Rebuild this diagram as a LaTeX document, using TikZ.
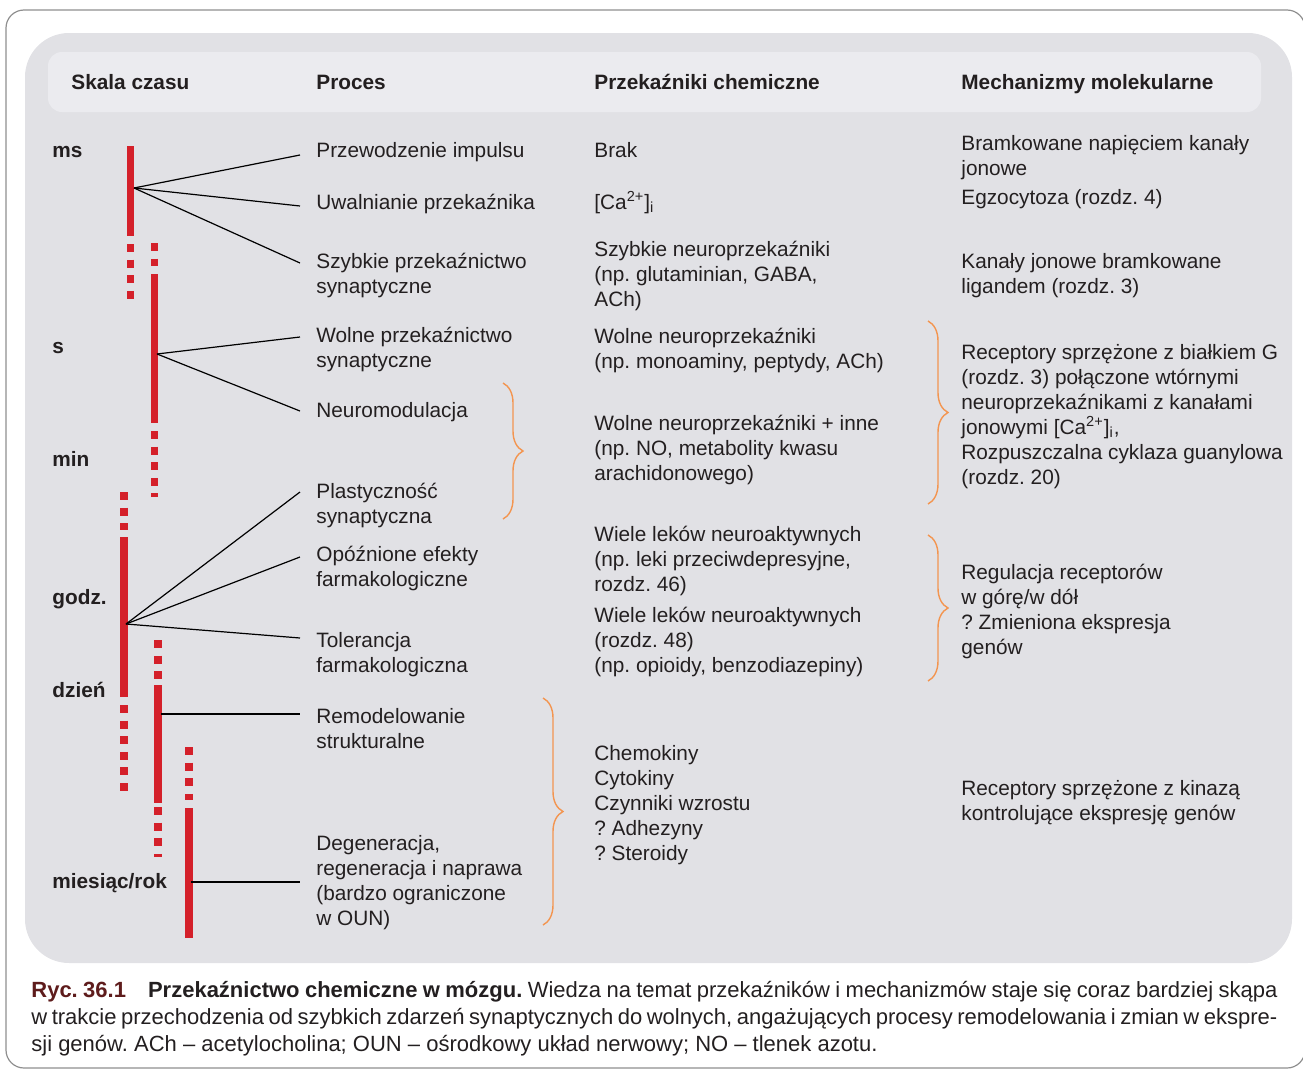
\documentclass[tikz,border=0pt]{standalone}
\usepackage{fontspec}
\setmainfont{Liberation Sans}
\usepackage{xcolor}
\usepackage{tikz}
\usetikzlibrary{decorations.pathreplacing, positioning}
\definecolor{panelgray}{HTML}{E1E1E5}
\definecolor{headgray}{HTML}{EBEBEF}
\definecolor{framegray}{HTML}{8F8F8F}
\definecolor{barred}{HTML}{D4202A}
\definecolor{braceorange}{HTML}{F39550}
\definecolor{txtgray}{HTML}{231F20}
\definecolor{rycred}{HTML}{5E1C1C}
\frenchspacing
% lines of one text, first baseline on the node's base
\newcommand{\colines}[1]{\begin{tabular}[t]{@{}l@{}}#1\end{tabular}}
\newcommand{\capline}[1]{\makebox[623pt][s]{#1}}
\tikzset{
    textnode/.style = {draw=none, fill=none, rectangle, inner sep=0pt, anchor=base west,
      text=txtgray, font=\fontsize{10.4}{12.5}\selectfont},
    headnode/.style = {textnode, font=\fontsize{10.4}{12.5}\selectfont\bfseries},
    timenode/.style = {headnode},
    capnode/.style = {textnode, font=\fontsize{11}{13}\selectfont},
    redbar/.style = {barred, line width=3.6pt},
    reddash/.style = {redbar, dash pattern=on 4pt off 3.8pt},
    connect/.style = {black, line width=0.6pt},
    bracket/.style = {braceorange, line width=0.7pt, decorate,
      decoration={brace, amplitude=10pt}}
}

\begin{document}
\begin{tikzpicture}[x=0.5pt, y=-0.5pt]
    \useasboundingbox (0,0) rectangle (1303,1071);
    % frame, panel and header band
    \draw [framegray, line width=0.6pt, rounded corners=9pt] (6,10) rectangle (1305,1068);
    \fill [panelgray, rounded corners=22pt] (25,33) rectangle (1292,963);
    \fill [headgray, rounded corners=7pt] (48,52) rectangle (1261,112);

    \node [headnode, name=hskala] at (71,89) {Skala czasu};
    \node [headnode, name=hproces] at (316,89) {Proces};
    \node [headnode, name=hprzek] at (594,89) {Przekaźniki chemiczne};
    \node [headnode, name=hmech] at (961,89) {Mechanizmy molekularne};

    % time scale
    \node [timenode, name=tms] at (52,157) {ms};
    \node [timenode, name=ts] at (52,353) {s};
    \node [timenode, name=tmin] at (52,466) {min};
    \node [timenode, name=tgodz] at (52,604) {godz.};
    \node [timenode, name=tdzien] at (52,697) {dzień};
    \node [timenode, name=tmies] at (52,888) {miesiąc/rok};

    % red bars
    \draw [redbar] (130.5,146) -- (130.5,236);
    \draw [reddash] (130.5,244) -- (130.5,299);
    \draw [reddash] (154.5,243) -- (154.5,266);
    \draw [redbar] (154.5,274) -- (154.5,423);
    \draw [reddash] (154.5,431) -- (154.5,497);
    \draw [reddash] (124,492) -- (124,530);
    \draw [redbar] (124,537) -- (124,697);
    \draw [reddash] (124,705) -- (124,791);
    \draw [reddash] (158,640) -- (158,680);
    \draw [redbar] (158,685) -- (158,803);
    \draw [reddash] (158,807) -- (158,857);
    \draw [reddash] (189,747) -- (189,800);
    \draw [redbar] (189,808) -- (189,938);

    % processes
    \node [textnode, name=pimp] at (316,157) {Przewodzenie impulsu};
    \node [textnode, name=puwal] at (316,209) {Uwalnianie przekaźnika};
    \node [textnode, name=pszyb] at (316,268) {\colines{Szybkie przekaźnictwo\\synaptyczne}};
    \node [textnode, name=pwoln] at (316,342) {\colines{Wolne przekaźnictwo\\synaptyczne}};
    \node [textnode, name=pneuro] at (316,417) {Neuromodulacja};
    \node [textnode, name=pplast] at (316,498) {\colines{Plastyczność\\synaptyczna}};
    \node [textnode, name=popozn] at (316,561) {\colines{Opóźnione efekty\\farmakologiczne}};
    \node [textnode, name=ptoler] at (316,647) {\colines{Tolerancja\\farmakologiczna}};
    \node [textnode, name=premod] at (316,723) {\colines{Remodelowanie\\strukturalne}};
    \node [textnode, name=pdegen] at (316,850) {\colines{Degeneracja,\\regeneracja i naprawa\\(bardzo ograniczone\\w OUN)}};

    % spokes
    \coordinate (hubms) at (134,188);
    \coordinate (hubs) at (157,354);
    \coordinate (hubgodz) at (126,624);
    \coordinate (hubdzien) at (161,714);
    \coordinate (hubmies) at (191,882);
    \coordinate (eimp) at (300,155);
    \coordinate (euwal) at (300,206);
    \coordinate (eszyb) at (300,263);
    \coordinate (ewoln) at (300,337);
    \coordinate (eneuro) at (300,411);
    \coordinate (eplast) at (300,492);
    \coordinate (eopozn) at (300,557);
    \coordinate (etoler) at (300,638);
    \coordinate (eremod) at (300,714);
    \coordinate (edegen) at (300,882);
    \draw [connect] (hubms) -- (eimp);
    \draw [connect] (hubms) -- (euwal);
    \draw [connect] (hubms) -- (eszyb);
    \draw [connect] (hubs) -- (ewoln);
    \draw [connect] (hubs) -- (eneuro);
    \draw [connect] (hubgodz) -- (eplast);
    \draw [connect] (hubgodz) -- (eopozn);
    \draw [connect] (hubgodz) -- (etoler);
    \draw [connect] (hubdzien) -- (eremod);
    \draw [connect] (hubmies) -- (edegen);

    % chemical messengers
    \node [textnode, name=cbrak] at (594,157) {Brak};
    \node [textnode, name=cca] at (594,209) {[Ca\textsuperscript{2+}]\textsubscript{i}};
    \node [textnode, name=cszyb] at (594,256) {\colines{Szybkie neuroprzekaźniki\\(np. glutaminian, GABA,\\ACh)}};
    \node [textnode, name=cwoln] at (594,343) {\colines{Wolne neuroprzekaźniki\\(np. monoaminy, peptydy, ACh)}};
    \node [textnode, name=cinne] at (594,430) {\colines{Wolne neuroprzekaźniki + inne\\(np. NO, metabolity kwasu\\arachidonowego)}};
    \node [textnode, name=cleki] at (594,541) {\colines{Wiele leków neuroaktywnych\\(np. leki przeciwdepresyjne,\\rozdz. 46)}};
    \node [textnode, name=cleki2] at (594,622) {\colines{Wiele leków neuroaktywnych\\(rozdz. 48)\\(np. opioidy, benzodiazepiny)}};
    \node [textnode, name=cchemo] at (594,760) {\colines{Chemokiny\\Cytokiny\\Czynniki wzrostu\\? Adhezyny\\? Steroidy}};

    % molecular mechanisms
    \node [textnode, name=mbram] at (961,150) {\colines{Bramkowane napięciem kanały\\jonowe}};
    \node [textnode, name=megzo] at (961,204) {Egzocytoza (rozdz. 4)};
    \node [textnode, name=mkan] at (961,268) {\colines{Kanały jonowe bramkowane\\ligandem (rozdz. 3)}};
    \node [textnode, name=mrecg] at (961,359) {\colines{Receptory sprzężone z białkiem G\\(rozdz. 3) połączone wtórnymi\\neuroprzekaźnikami z kanałami\\jonowymi [Ca\textsuperscript{2+}]\textsubscript{i},\\Rozpuszczalna cyklaza guanylowa\\(rozdz. 20)}};
    \node [textnode, name=mregul] at (961,579) {\colines{Regulacja receptorów\\w górę/w dół\\? Zmieniona ekspresja\\genów}};
    \node [textnode, name=mkin] at (961,795) {\colines{Receptory sprzężone z kinazą\\kontrolujące ekspresję genów}};

    % braces
    \draw [bracket] (503,383) -- (503,519);
    \draw [bracket] (928,321) -- (928,504);
    \draw [bracket] (928,535) -- (928,681);
    \draw [bracket] (543,698) -- (543,925);

    % caption
    \node [capnode, name=caption] at (31,997) {\begin{tabular}[t]{@{}l@{}}%
      \capline{\textcolor{rycred}{\textbf{Ryc. 36.1}}\hspace{1em}\textbf{Przekaźnictwo chemiczne w mózgu.} Wiedza na temat przekaźników i mechanizmów staje się coraz bardziej skąpa}\\[0.5pt]
      \capline{w trakcie przechodzenia od szybkich zdarzeń synaptycznych do wolnych, angażujących procesy remodelowania i zmian w ekspre-}\\[0.5pt]
      sji genów. ACh -- acetylocholina; OUN -- ośrodkowy układ nerwowy; NO -- tlenek azotu.
    \end{tabular}};
\end{tikzpicture}
\end{document}
